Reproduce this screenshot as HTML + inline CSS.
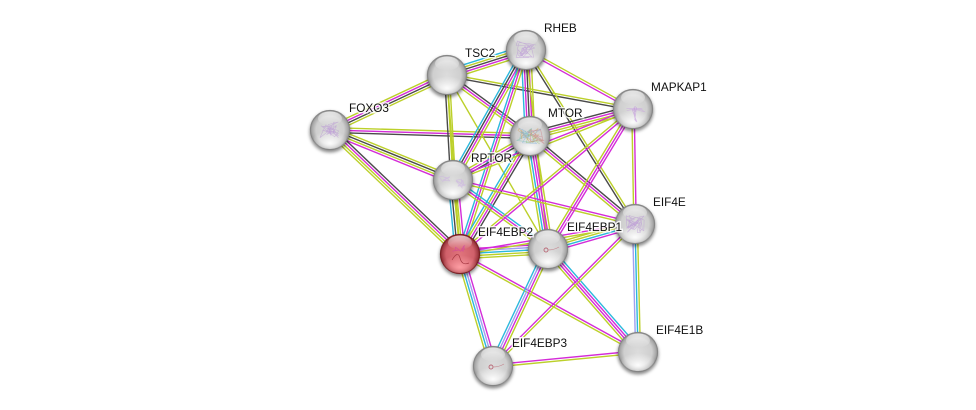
<!DOCTYPE html>
<html><head><meta charset="utf-8"><style>
html,body{margin:0;padding:0;background:#fff;width:976px;height:410px;overflow:hidden}
svg{display:block}
text{font-family:"Liberation Sans",sans-serif;font-size:11.8px;fill:#111;paint-order:stroke;stroke:rgba(255,255,255,.8);stroke-width:3px}
</style></head><body>
<svg id="s" width="976" height="410" viewBox="0 0 976 410" xmlns="http://www.w3.org/2000/svg">
<defs>
<radialGradient id="g" cx=".5" cy=".5" r=".5"><stop offset="0" stop-color="#dcdcdc"/><stop offset=".7" stop-color="#cfcfcf"/><stop offset=".9" stop-color="#a8a8a8"/><stop offset="1" stop-color="#858585"/></radialGradient>
<radialGradient id="r" cx=".5" cy=".5" r=".5"><stop offset="0" stop-color="#e0747c"/><stop offset=".7" stop-color="#d0606a"/><stop offset=".9" stop-color="#a03a42"/><stop offset="1" stop-color="#741a1e"/></radialGradient>
<linearGradient id="h" x1="0" y1="0" x2="0" y2="1"><stop offset="0" stop-color="#fff" stop-opacity=".7"/><stop offset="1" stop-color="#fff" stop-opacity="0"/></linearGradient>
<radialGradient id="b" cx=".5" cy=".7" r=".6"><stop offset="0" stop-color="#fff" stop-opacity=".95"/><stop offset="1" stop-color="#fff" stop-opacity="0"/></radialGradient>
<radialGradient id="b2" cx=".5" cy=".7" r=".6"><stop offset="0" stop-color="#ffa0a6" stop-opacity=".95"/><stop offset="1" stop-color="#ffa0a6" stop-opacity="0"/></radialGradient>
<filter id="sh" x="-30%" y="-30%" width="160%" height="160%"><feGaussianBlur stdDeviation="1.5"/></filter>
</defs>
<g id="e" fill="none" stroke-width="1.4"></g>
<g id="n"></g>
<g>
<text x="349" y="112">FOXO3</text>
<text x="465" y="57">TSC2</text>
<text x="544" y="32">RHEB</text>
<text x="651" y="91">MAPKAP1</text>
<text x="548" y="117">MTOR</text>
<text x="471" y="162">RPTOR</text>
<text x="478" y="236">EIF4EBP2</text>
<text x="567" y="231">EIF4EBP1</text>
<text x="653" y="206">EIF4E</text>
<text x="656" y="334">EIF4E1B</text>
<text x="512" y="347">EIF4EBP3</text>
</g>
</svg>
<script>
var P={F:[330,130],T:[447,75],H:[526,50],A:[633,109],M:[530,136],R:[453,180],B2:[460,254],B1:[548,249],E:[635,224],L:[638,352],B3:[493,366]};
var C={y:"#bcd02a",m:"#d42cd8",k:"#4a4a4a",c:"#2cb8dc",b:"#a0a0f0"};
var E=[["F","T","ymky"],["F","M","ymk"],["F","R","ykym"],["F","B2","kmyy"],["T","H","cykmy"],["T","A","yk"],["T","M","kmy"],["T","R","yyk"],["T","B2","y"],["T","B1","y"],["H","M","ymkmc"],["H","R","ymkc"],["H","B2","ymc"],["H","A","ym"],["H","E","yk"],["H","B1","y"],["M","A","kmyy"],["M","R","kmy"],["M","B2","kmyc"],["M","B1","ymmcy"],["M","E","kmy"],["R","A","my"],["R","B2","myykc"],["R","B1","cmy"],["R","E","my"],["A","E","my"],["A","B2","my"],["A","B1","mmy"],["B2","B1","mbcyy"],["B2","E","my"],["B2","B3","mbcy"],["B2","L","my"],["B1","E","yycm"],["B1","B3","ymbc"],["B1","L","cmmy"],["E","L","ycb"],["E","B3","ym"],["L","B3","ym"]];
var NS="http://www.w3.org/2000/svg",ge=document.getElementById("e"),gn=document.getElementById("n");
function mk(t,a,p){var x=document.createElementNS(NS,t);for(var k in a)x.setAttribute(k,a[k]);p.appendChild(x);return x}
E.forEach(function(d){var a=P[d[0]],b=P[d[1]],dx=b[0]-a[0],dy=b[1]-a[1],l=Math.hypot(dx,dy),nx=-dy/l,ny=dx/l,n=d[2].length;
for(var i=0;i<n;i++){var o=(i-(n-1)/2)*2.4;mk("line",{x1:a[0]+nx*o,y1:a[1]+ny*o,x2:b[0]+nx*o,y2:b[1]+ny*o,stroke:C[d[2][i]]},ge)}});
var seed=7;function rnd(){seed=(seed*16807)%2147483647;return seed/2147483647}
function tangle(x,y,rx,ry,n,col,w,op){var d="M"+x+" "+y;for(var i=0;i<n;i++){d+=" L"+(x+(rnd()*2-1)*rx).toFixed(1)+" "+(y+(rnd()*2-1)*ry).toFixed(1)}
mk("path",{d:d,fill:"none",stroke:col,"stroke-width":w,"stroke-opacity":op,"stroke-linejoin":"round"},gn)}
Object.keys(P).forEach(function(k){var x=P[k][0],y=P[k][1],red=k=="B2";
mk("circle",{cx:x,cy:y+2,r:20.5,fill:"#000","fill-opacity":.45,filter:"url(#sh)"},gn);
mk("circle",{cx:x,cy:y,r:20,fill:red?"url(#r)":"url(#g)"},gn);
mk("ellipse",{cx:x,cy:y+9,rx:16.5,ry:10,fill:red?"url(#b2)":"url(#b)"},gn);
mk("ellipse",{cx:x,cy:y-11.5,rx:12,ry:7,fill:"url(#h)"},gn);
if(k=="F"||k=="H"||k=="E"){tangle(x,y,10,9,26,"#b48cd4",.6,.5);tangle(x-1,y+1,6,5,10,"#b890d8",1,.45)}
if(k=="A"){tangle(x,y,12,3,8,"#c8a0e0",.6,.55);tangle(x+1,y+4,3,9,10,"#c090dc",.7,.55)}
if(k=="M"){["#70c0b0","#d0a060","#80b0d8","#90c070","#d07880"].forEach(function(c,i){tangle(x+(i-2)*2,y,11,8,12,c,.6,.55)})}
if(k=="R"){tangle(x-8,y-1,6,3,10,"#ccb0e4",.7,.55);tangle(x+7,y+4,6,5,12,"#ccb0e4",.7,.55)}
if(k=="B2"){tangle(x-1,y-4,7,5,10,"#d040a8",.7,.6);mk("path",{d:"M"+(x-8)+" "+(y+6)+"q6-10 8-2t9 5",fill:"none",stroke:"#a83a44","stroke-width":.7},gn)}
if(k=="B1"||k=="B3"){mk("circle",{cx:x-2,cy:y+1,r:2,fill:"none",stroke:"#b86a78","stroke-width":.9},gn);mk("path",{d:"M"+x+" "+(y+1)+"q6 0 11-3",fill:"none",stroke:"#c48a92","stroke-width":.7},gn)}
mk("circle",{cx:x,cy:y,r:19.6,fill:"none",stroke:red?"#741a1e":"#808080","stroke-opacity":.65,"stroke-width":1},gn);});
</script>
</body></html>
